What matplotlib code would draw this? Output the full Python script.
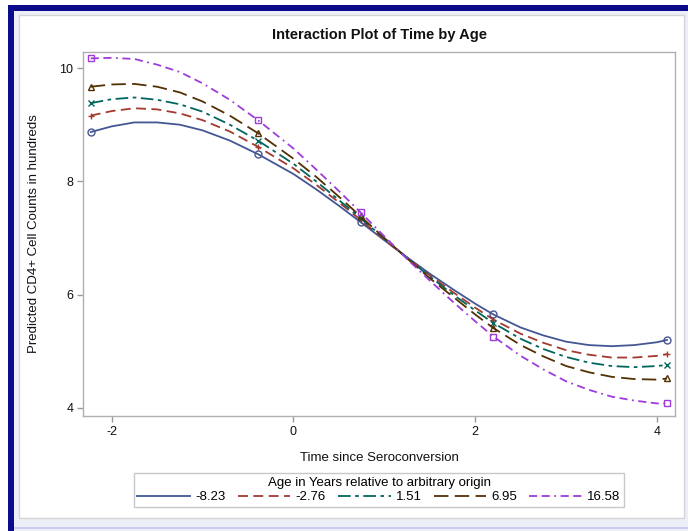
import matplotlib
matplotlib.use("Agg")
import matplotlib.pyplot as plt
from matplotlib.patches import Rectangle

plt.rcParams['font.family'] = ['Liberation Sans', 'DejaVu Sans']
plt.rcParams['axes.unicode_minus'] = False

# Predicted CD4+ counts (hundreds) by time since seroconversion, for five ages
time = [-2.23, -2.0, -1.75, -1.5, -1.25, -1.0, -0.7, -0.39, 0.0, 0.25, 0.5, 0.74, 1.0,
        1.25, 1.5, 1.75, 2.0, 2.2, 2.5, 2.75, 3.0, 3.25, 3.5, 3.75, 4.0, 4.11]
marker_idx = [0, 7, 11, 17, 25]

age_labels = ["-8.23", "-2.76", "1.51", "6.95", "16.58"]
cd4_age_m823 = [8.87, 8.97, 9.04, 9.04, 9.00, 8.90, 8.72, 8.48, 8.13, 7.86, 7.57, 7.28, 6.96,
                6.66, 6.37, 6.10, 5.84, 5.65, 5.42, 5.28, 5.17, 5.11, 5.09, 5.11, 5.16, 5.20]
cd4_age_m276 = [9.16, 9.24, 9.29, 9.27, 9.20, 9.08, 8.88, 8.61, 8.23, 7.94, 7.63, 7.32, 6.97,
                6.65, 6.34, 6.05, 5.77, 5.56, 5.31, 5.15, 5.02, 4.94, 4.89, 4.89, 4.92, 4.95]
cd4_age_151 = [9.38, 9.45, 9.48, 9.44, 9.36, 9.23, 9.00, 8.72, 8.31, 8.00, 7.67, 7.35, 6.99,
               6.65, 6.32, 6.01, 5.72, 5.50, 5.22, 5.04, 4.90, 4.80, 4.74, 4.72, 4.74, 4.76]
cd4_age_695 = [9.67, 9.71, 9.72, 9.67, 9.57, 9.41, 9.16, 8.85, 8.40, 8.08, 7.73, 7.38, 7.00,
               6.64, 6.29, 5.97, 5.65, 5.41, 5.11, 4.91, 4.74, 4.63, 4.55, 4.51, 4.50, 4.52]
cd4_age_1658 = [10.17, 10.18, 10.16, 10.06, 9.93, 9.73, 9.44, 9.08, 8.58, 8.21, 7.83, 7.45, 7.03,
                6.63, 6.25, 5.88, 5.53, 5.26, 4.92, 4.68, 4.47, 4.32, 4.20, 4.13, 4.08, 4.08]
series = [cd4_age_m823, cd4_age_m276, cd4_age_151, cd4_age_695, cd4_age_1658]

x_ticks = [-2, 0, 2, 4]
y_ticks = [4, 6, 8, 10]

colors = ["#445694", "#A23A2E", "#01665E", "#543005", "#9D3CDB"]
dashes = [None, (5.5, 3), (7, 2.5, 2, 2.5), (8, 3.5), (4.5, 2.5, 4.5, 2.5, 1, 2.5)]
markers = ["o", "+", "x", "^", "s"]

W, H = 688, 531
fig = plt.figure(figsize=(W / 100, H / 100), dpi=100)
fig.patch.set_facecolor("white")

def frect(x0, y0, x1, y1, **kw):
    # rectangle given in pixel coordinates (origin top-left)
    r = Rectangle((x0 / W, 1 - y1 / H), (x1 - x0) / W, (y1 - y0) / H,
                  transform=fig.transFigure, **kw)
    fig.patches.append(r)

# page frame
frect(8, 5, 688, 531, facecolor="#eceef8", edgecolor="none", zorder=0)
frect(8, 5, 14, 531, facecolor="#0b0b8c", edgecolor="none", zorder=0.1)
frect(8, 5, 688, 11, facecolor="#0b0b8c", edgecolor="none", zorder=0.1)
frect(19, 15, 684, 518, facecolor="white", edgecolor="#d4d4d4", linewidth=1, zorder=0.2)
frect(14, 527, 688, 529, facecolor="#c8ccf0", edgecolor="none", zorder=0.1)

ax = fig.add_axes([83 / W, 1 - 416 / H, (675 - 83) / W, (416 - 52) / H])
ax.set_zorder(3)
ax.set_facecolor("white")

lw = 1.3
for vals, lab, c, d, m in zip(series, age_labels, colors, dashes, markers):
    line, = ax.plot(time, vals, color=c, lw=lw, label=lab,
                    marker=m, markevery=marker_idx, markersize=5,
                    markerfacecolor="none", markeredgecolor=c, markeredgewidth=1.0,
                    solid_joinstyle="round", dash_joinstyle="round")
    if d is not None:
        line.set_dashes(d)

ax.set_xlim(-2.315, 4.198)
ax.set_ylim(3.858, 10.283)
ax.set_xticks(x_ticks)
ax.set_yticks(y_ticks)
ax.tick_params(direction="out", length=4, width=1, color="#9a9a9a",
               labelsize=9, labelcolor="#111111", pad=3)
for s in ax.spines.values():
    s.set_color("#b0b0b0")
    s.set_linewidth(1)

fig.text(379 / W, 1 - 35 / H, "Interaction Plot of Time by Age",
         ha="center", va="center", fontsize=10.5, fontweight="bold", color="#111111", zorder=3)
fig.text(379 / W, 1 - 458 / H, "Time since Seroconversion",
         ha="center", va="center", fontsize=9.5, color="#111111", zorder=3)
fig.text(34 / W, 1 - 234 / H, "Predicted CD4+ Cell Counts in hundreds",
         ha="center", va="center", rotation=90, fontsize=9.5, color="#111111", zorder=3)

handles, labels = ax.get_legend_handles_labels()
leg = fig.legend(handles, labels, ncol=5, loc="center",
                 bbox_to_anchor=(379 / W, 1 - 490 / H),
                 title="Age in Years relative to arbitrary origin",
                 fontsize=9.5, title_fontsize=9.5,
                 handlelength=4.0, handletextpad=0.4, columnspacing=0.9,
                 borderpad=0.25, labelspacing=0.2,
                 frameon=True, fancybox=False, edgecolor="#c8c8c8",
                 framealpha=1)
leg.set_zorder(4)
for h in leg.legend_handles:
    h.set_marker("")
leg.get_frame().set_linewidth(1)

fig.savefig("out.png", dpi=100, facecolor=fig.get_facecolor())
